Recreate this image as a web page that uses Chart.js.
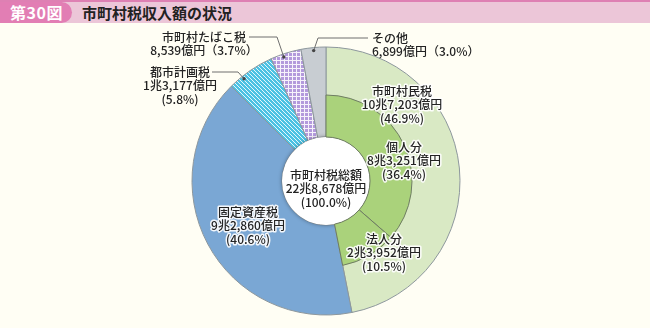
<!DOCTYPE html>
<html>
<head>
<meta charset="utf-8">
<script src="https://cdn.jsdelivr.net/npm/chart.js@4"></script>
<style>
  html, body { margin: 0; padding: 0; background: #fffef4; }
  #wrap { position: relative; width: 650px; height: 328px; overflow: hidden; background: #fffef4; }
  .band { position: absolute; left: 0; top: 0; width: 650px; height: 23px; background: #ecc6d8; border-top: 2px solid #de80b3; box-sizing: border-box; }
  .badge { position: absolute; left: 0; top: 2px; width: 72px; height: 21px; background: #e27eb4; border-radius: 0 13px 13px 0;
           color: #fff; font: bold 16px "Noto Sans CJK JP", sans-serif; line-height: 21px; padding-left: 10px; box-sizing: border-box; letter-spacing: 0.5px; }
  .title { position: absolute; left: 82px; top: 2px; font: bold 15px "Noto Sans CJK JP", sans-serif; line-height: 21px; color: #222; }
  canvas { position: absolute; left: 0; top: 0; }
</style>
</head>
<body>
<div id="wrap">
  <div class="band"></div>
  <div class="badge">第30図</div>
  <div class="title">市町村税収入額の状況</div>
  <canvas id="outer" width="650" height="328"></canvas>
  <canvas id="inner" width="650" height="328"></canvas>
</div>
<script>
// Municipal tax revenue by item (share of total, %)
const catLabels  = ['市町村民税', '固定資産税', '都市計画税', '市町村たばこ税', 'その他'];
const catShares  = [46.9, 40.6, 5.8, 3.7, 3.0];
const catAmounts = ['10兆7,203億円', '9兆2,860億円', '1兆3,177億円', '8,539億円', '6,899億円'];

// Breakdown of 市町村民税
const subLabels  = ['個人分', '法人分'];
const subShares  = [36.4, 10.5];
const subAmounts = ['8兆3,251億円', '2兆3,952億円'];

// Total
const totalLabel  = '市町村税総額';
const totalAmount = '22兆8,678億円';
const totalShare  = 100.0;

const FONT = '"Noto Sans CJK JP", "Noto Sans", sans-serif';
const OUTER_R = 134, MID_R = 86, HOLE_R = 44;
const PAD = { left: 191.5, top: 46.5, right: 189.5, bottom: 12.5 };

function pattern(size, paint) {
  const c = document.createElement('canvas');
  c.width = c.height = size;
  const g = c.getContext('2d');
  paint(g, size);
  return document.getElementById('outer').getContext('2d').createPattern(c, 'repeat');
}
// diagonal cyan hatch (one pixel per row, shifted each row)
const hatchCyan = pattern(4, (g, s) => {
  g.fillStyle = '#4cc2e3'; g.fillRect(0, 0, s, s);
  g.fillStyle = '#e6f7fc';
  for (let i = 0; i < s; i++) g.fillRect(i, i, 1, 1);
});
// lavender check with white grid
const gridPurple = pattern(4, (g, s) => {
  g.fillStyle = '#b39adc'; g.fillRect(0, 0, s, s);
  g.fillStyle = '#f6f2fb';
  g.fillRect(0, 0, s, 1); g.fillRect(0, 0, 1, s);
});

const outerColors = ['#d9e9c4', '#7aa7d4', hatchCyan, gridPurple, '#c8cdd2'];
const pct = v => '(' + v.toFixed(1) + '%)';
const pctW = v => '（' + v.toFixed(1) + '%）';

const common = {
  responsive: false,
  animation: false,
  events: [],
  layout: { padding: PAD },
  plugins: { legend: { display: false }, tooltip: { enabled: false } }
};

const chartA = new Chart(document.getElementById('outer'), {
  type: 'doughnut',
  data: {
    labels: catLabels,
    datasets: [{
      data: catShares,
      backgroundColor: outerColors,
      borderColor: '#8d979c',
      borderWidth: 1,
      hoverBorderWidth: 1
    }]
  },
  options: Object.assign({}, common, { cutout: (HOLE_R / OUTER_R * 100) + '%' })
});

const innerData = subShares.concat(catShares.slice(1));
const innerColors = innerData.map((v, i) => i < subShares.length ? '#aad27b' : 'rgba(0,0,0,0)');
const innerBorders = innerData.map((v, i) => i < subShares.length ? 1 : 0);

function textLines(ctx, lines, x, y, align, halo) {
  ctx.textAlign = align;
  ctx.textBaseline = 'middle';
  lines.forEach((t, i) => {
    const yy = y + i * 13.5;
    if (halo) {
      ctx.lineJoin = 'round';
      ctx.lineWidth = 3;
      ctx.strokeStyle = 'rgba(255,255,255,0.9)';
      ctx.strokeText(t, x, yy);
    }
    ctx.fillStyle = '#232323';
    ctx.fillText(t, x, yy);
  });
}

function leader(ctx, pts) {
  ctx.strokeStyle = '#6f6f6f';
  ctx.lineWidth = 1;
  ctx.beginPath();
  ctx.moveTo(pts[0][0], pts[0][1]);
  for (let i = 1; i < pts.length; i++) ctx.lineTo(pts[i][0], pts[i][1]);
  ctx.stroke();
  const e = pts[pts.length - 1];
  ctx.fillStyle = '#444';
  ctx.beginPath(); ctx.arc(e[0], e[1], 1.7, 0, Math.PI * 2); ctx.fill();
}

// point on an outer arc, at fraction f of its sweep, just inside the rim
function arcPoint(idx, f) {
  const a = chartA.getDatasetMeta(0).data[idx];
  const ang = a.startAngle + (a.endAngle - a.startAngle) * f;
  const r = a.outerRadius - 3;
  return [a.x + Math.cos(ang) * r, a.y + Math.sin(ang) * r];
}

const decor = {
  id: 'decor',
  beforeDatasetsDraw(chart) {
    const a = chartA.getDatasetMeta(0).data[0];
    const ctx = chart.ctx;
    ctx.save();
    ctx.shadowColor = 'rgba(0,0,0,0.4)';
    ctx.shadowBlur = 4;
    ctx.fillStyle = '#ffffff';
    ctx.beginPath(); ctx.arc(a.x, a.y, a.innerRadius, 0, Math.PI * 2); ctx.fill();
    ctx.restore();
  },
  afterDraw(chart) {
    const ctx = chart.ctx;
    const c = chartA.getDatasetMeta(0).data[0];
    ctx.save();
    ctx.font = '500 12px ' + FONT;

    // leaders for the narrow slices
    leader(ctx, [[212, 72], [238, 72], arcPoint(2, 0.3)]);
    leader(ctx, [[249, 37], [277, 37], arcPoint(3, 0.4)]);
    leader(ctx, [[368, 38], [318, 38], arcPoint(4, 0.5)]);

    textLines(ctx, [catLabels[2], catAmounts[2], pct(catShares[2])], 180, 72, 'center', false);
    textLines(ctx, [catLabels[3], catAmounts[3] + pctW(catShares[3])], 204, 37, 'center', false);
    textLines(ctx, [catLabels[4], catAmounts[4] + pctW(catShares[4])], 372, 38, 'left', false);

    textLines(ctx, [catLabels[0], catAmounts[0], pct(catShares[0])], 402, 91, 'center', true);
    textLines(ctx, [catLabels[1], catAmounts[1], pct(catShares[1])], 248, 212, 'center', true);
    textLines(ctx, [subLabels[0], subAmounts[0], pct(subShares[0])], 404, 147, 'center', true);
    textLines(ctx, [subLabels[1], subAmounts[1], pct(subShares[1])], 384, 239, 'center', true);

    textLines(ctx, [totalLabel, totalAmount, pct(totalShare)], c.x, c.y - 6, 'center', false);
    ctx.restore();
  }
};

const chartB = new Chart(document.getElementById('inner'), {
  type: 'doughnut',
  data: {
    labels: subLabels.concat(catLabels.slice(1)),
    datasets: [{
      data: innerData,
      backgroundColor: innerColors,
      borderColor: '#6e7c62',
      borderWidth: innerBorders,
      hoverBorderWidth: innerBorders
    }]
  },
  options: Object.assign({}, common, { radius: MID_R, cutout: (HOLE_R / MID_R * 100) + '%' }),
  plugins: [decor]
});
</script>
</body>
</html>
